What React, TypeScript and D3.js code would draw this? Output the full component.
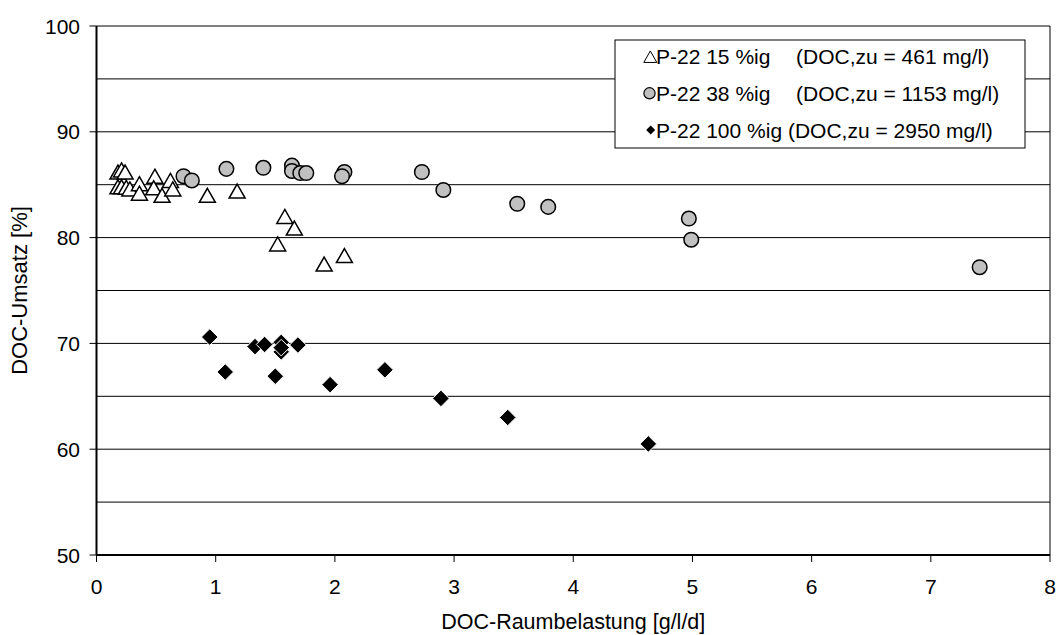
import React from "react";
import * as d3 from "d3";

// P-22 15 %ig (DOC,zu = 461 mg/l)
const p15X = [0.18, 0.21, 0.24, 0.18, 0.21, 0.25, 0.28, 0.36, 0.36, 0.49, 0.48, 0.55, 0.62, 0.64, 0.93, 1.18, 1.58, 1.66, 1.52, 1.91, 2.08];
const p15Y = [86.2, 86.4, 86.2, 84.8, 84.8, 84.75, 84.6, 85.1, 84.2, 85.8, 84.7, 84.0, 85.4, 84.6, 84.0, 84.4, 82.0, 80.9, 79.4, 77.5, 78.3];

// P-22 38 %ig (DOC,zu = 1153 mg/l)
const p38X = [0.73, 0.8, 1.09, 1.4, 1.64, 1.64, 1.71, 1.76, 2.08, 2.06, 2.73, 2.91, 3.53, 3.79, 4.97, 4.99, 7.41];
const p38Y = [85.8, 85.4, 86.5, 86.6, 86.8, 86.3, 86.1, 86.1, 86.2, 85.8, 86.2, 84.5, 83.2, 82.9, 81.8, 79.8, 77.2];

// P-22 100 %ig (DOC,zu = 2950 mg/l)
const p100X = [0.95, 1.08, 1.33, 1.41, 1.55, 1.55, 1.55, 1.69, 1.5, 1.96, 2.42, 2.89, 3.45, 4.63];
const p100Y = [70.6, 67.3, 69.7, 69.9, 70.1, 69.2, 69.6, 69.85, 66.9, 66.1, 67.5, 64.8, 63.0, 60.5];

const xTicks = [0, 1, 2, 3, 4, 5, 6, 7, 8];
const yTicks = [50, 60, 70, 80, 90, 100];
const yGrid = [55, 60, 65, 70, 75, 80, 85, 90, 95];

const legendLabels = [
  ["P-22 15 %ig", "(DOC,zu = 461 mg/l)"],
  ["P-22 38 %ig", "(DOC,zu = 1153 mg/l)"],
  ["P-22 100 %ig (DOC,zu = 2950 mg/l)", ""],
];

const FONT = "'Liberation Sans', Arial, sans-serif";

const left = 96.5;
const right = 1050;
const top = 26;
const bottom = 555;

const x = d3.scaleLinear().domain([0, 8]).range([left, right]);
const y = d3.scaleLinear().domain([50, 100]).range([bottom, top]);

const tri = (cx: number, cy: number, w: number, h: number) =>
  `M${cx},${cy - h / 2}L${cx + w / 2},${cy + h / 2}L${cx - w / 2},${cy + h / 2}Z`;
const dia = (cx: number, cy: number, r: number) =>
  `M${cx},${cy - r}L${cx + r},${cy}L${cx},${cy + r}L${cx - r},${cy}Z`;

export default function App() {
  const legX = 615;
  const legY = 40;
  const legW = 410;
  const legH = 108;
  const rowY = [56.7, 93.3, 130];

  return (
    <svg
      width={1056}
      height={635}
      style={{ position: "absolute", left: 0, top: 0, background: "#fff" }}
      fontFamily={FONT}
    >
      <rect x={0} y={0} width={1056} height={635} fill="#fff" />

      {/* horizontal gridlines */}
      {yGrid.map((v) => (
        <line key={v} x1={left} x2={right} y1={y(v)} y2={y(v)} stroke="#000" strokeWidth={1} />
      ))}

      {/* plot frame */}
      <line x1={left} x2={right} y1={top} y2={top} stroke="#000" strokeWidth={1} />
      <line x1={right} x2={right} y1={top} y2={bottom} stroke="#000" strokeWidth={1} />

      {/* y axis */}
      <line x1={left} x2={left} y1={top} y2={bottom} stroke="#000" strokeWidth={2} />
      {yTicks.map((v) => (
        <g key={v}>
          <line x1={left - 7} x2={left} y1={y(v)} y2={y(v)} stroke="#000" strokeWidth={1} />
          <text x={80} y={y(v) + 7.5} textAnchor="end" fontSize={21} fill="#000">
            {v}
          </text>
        </g>
      ))}

      {/* x axis */}
      <line x1={left} x2={right} y1={bottom} y2={bottom} stroke="#000" strokeWidth={2} />
      {xTicks.map((v) => (
        <g key={v}>
          <line x1={x(v)} x2={x(v)} y1={bottom} y2={bottom + 7} stroke="#000" strokeWidth={1} />
          <text x={x(v)} y={594} textAnchor="middle" fontSize={21} fill="#000">
            {v}
          </text>
        </g>
      ))}

      <text x={(left + right) / 2} y={629} textAnchor="middle" fontSize={21.5} fill="#000">
        DOC-Raumbelastung [g/l/d]
      </text>
      <text
        transform={`translate(27,${(top + bottom) / 2}) rotate(-90)`}
        textAnchor="middle"
        fontSize={22}
        fill="#000"
      >
        DOC-Umsatz [%]
      </text>

      {/* series: triangles */}
      {p15X.map((v, i) => (
        <path key={"t" + i} d={tri(x(v), y(p15Y[i]), 16, 14)} fill="#fff" stroke="#000" strokeWidth={1.5} />
      ))}
      {/* series: circles */}
      {p38X.map((v, i) => (
        <circle key={"c" + i} cx={x(v)} cy={y(p38Y[i])} r={7.3} fill="#c0c0c0" stroke="#000" strokeWidth={1.5} />
      ))}
      {/* series: diamonds */}
      {p100X.map((v, i) => (
        <path key={"d" + i} d={dia(x(v), y(p100Y[i]), 8.3)} fill="#000" stroke="#fff" strokeWidth={1} />
      ))}

      {/* legend */}
      <rect x={legX} y={legY} width={legW} height={legH} fill="#fff" stroke="#000" strokeWidth={1} />
      <path d={tri(650.3, rowY[0], 13, 11.5)} fill="#fff" stroke="#000" strokeWidth={1} />
      <circle cx={649.5} cy={rowY[1]} r={5.6} fill="#c0c0c0" stroke="#000" strokeWidth={1.2} />
      <path d={dia(650.7, rowY[2], 4.5)} fill="#000" />
      {legendLabels.map((row, i) => (
        <g key={i}>
          <text x={656} y={rowY[i] + 7.5} fontSize={21} fill="#000">
            {row[0]}
          </text>
          {row[1] && (
            <text x={796} y={rowY[i] + 7.5} fontSize={21} fill="#000">
              {row[1]}
            </text>
          )}
        </g>
      ))}
    </svg>
  );
}
